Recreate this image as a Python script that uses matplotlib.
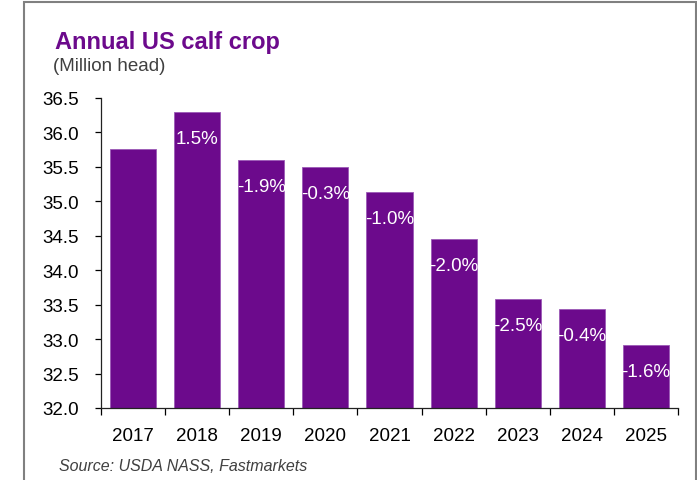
import matplotlib
matplotlib.use("Agg")
import matplotlib.pyplot as plt
from matplotlib.patches import Rectangle

plt.rcParams["font.family"] = ["Liberation Sans", "DejaVu Sans"]

years = ["2017", "2018", "2019", "2020", "2021", "2022", "2023", "2024", "2025"]
calf_crop = [35.76, 36.29, 35.60, 35.50, 35.14, 34.45, 33.58, 33.44, 32.91]
yoy_labels = ["", "1.5%", "-1.9%", "-0.3%", "-1.0%", "-2.0%", "-2.5%", "-0.4%", "-1.6%"]
y_ticks = [32.0, 32.5, 33.0, 33.5, 34.0, 34.5, 35.0, 35.5, 36.0, 36.5]

purple = "#6C0A8C"

fig = plt.figure(figsize=(6.97, 4.81), dpi=100)
ax = fig.add_axes([0.1449, 0.1497, 0.8278, 0.6445])

x = list(range(len(years)))
ax.bar(x, calf_crop, width=0.72, color=purple,
       edgecolor="#9b59b6", linewidth=0.6)

for xi, val, lab in zip(x, calf_crop, yoy_labels):
    if lab:
        ax.annotate(lab, (xi, val), xytext=(0, -19), textcoords="offset points",
                    ha="center", va="center", color="white", fontsize=13.5)

ax.set_ylim(32.0, 36.5)
ax.set_xlim(-0.5, len(years) - 0.5)
ax.set_yticks(y_ticks)
ax.set_yticklabels([f"{t:.1f}" for t in y_ticks], fontsize=13.5)

# category labels at bar centres, tick marks at category boundaries
ax.set_xticks(x)
ax.set_xticklabels(years, fontsize=13.5)
ax.set_xticks([i - 0.5 for i in range(len(years) + 1)], minor=True)
ax.tick_params(axis="x", which="major", length=0, pad=14)
ax.tick_params(axis="x", which="minor", length=5, direction="out", width=0.9)
ax.tick_params(axis="y", length=4, direction="out", width=0.9, pad=12)

for side in ("top", "right"):
    ax.spines[side].set_visible(False)
for side in ("left", "bottom"):
    ax.spines[side].set_linewidth(0.9)
    ax.spines[side].set_color("#222222")

fig.text(0.079, 0.912, "Annual US calf crop", fontsize=17, fontweight="bold",
         color=purple, ha="left", va="center")
fig.text(0.076, 0.862, "(Million head)", fontsize=13.5, color="#404040",
         ha="left", va="center")
fig.text(0.085, 0.031, "Source: USDA NASS, Fastmarkets", fontsize=11.5,
         style="italic", color="#404040", ha="left", va="center")

# outer grey frame, open at the bottom edge of the image
frame = Rectangle((24 / 697, -0.05), (696 - 24) / 697, 1.05 - 2.5 / 481,
                  transform=fig.transFigure, fill=False,
                  edgecolor="#808080", linewidth=1.5)
fig.patches.append(frame)

fig.savefig("out.png", dpi=100)
